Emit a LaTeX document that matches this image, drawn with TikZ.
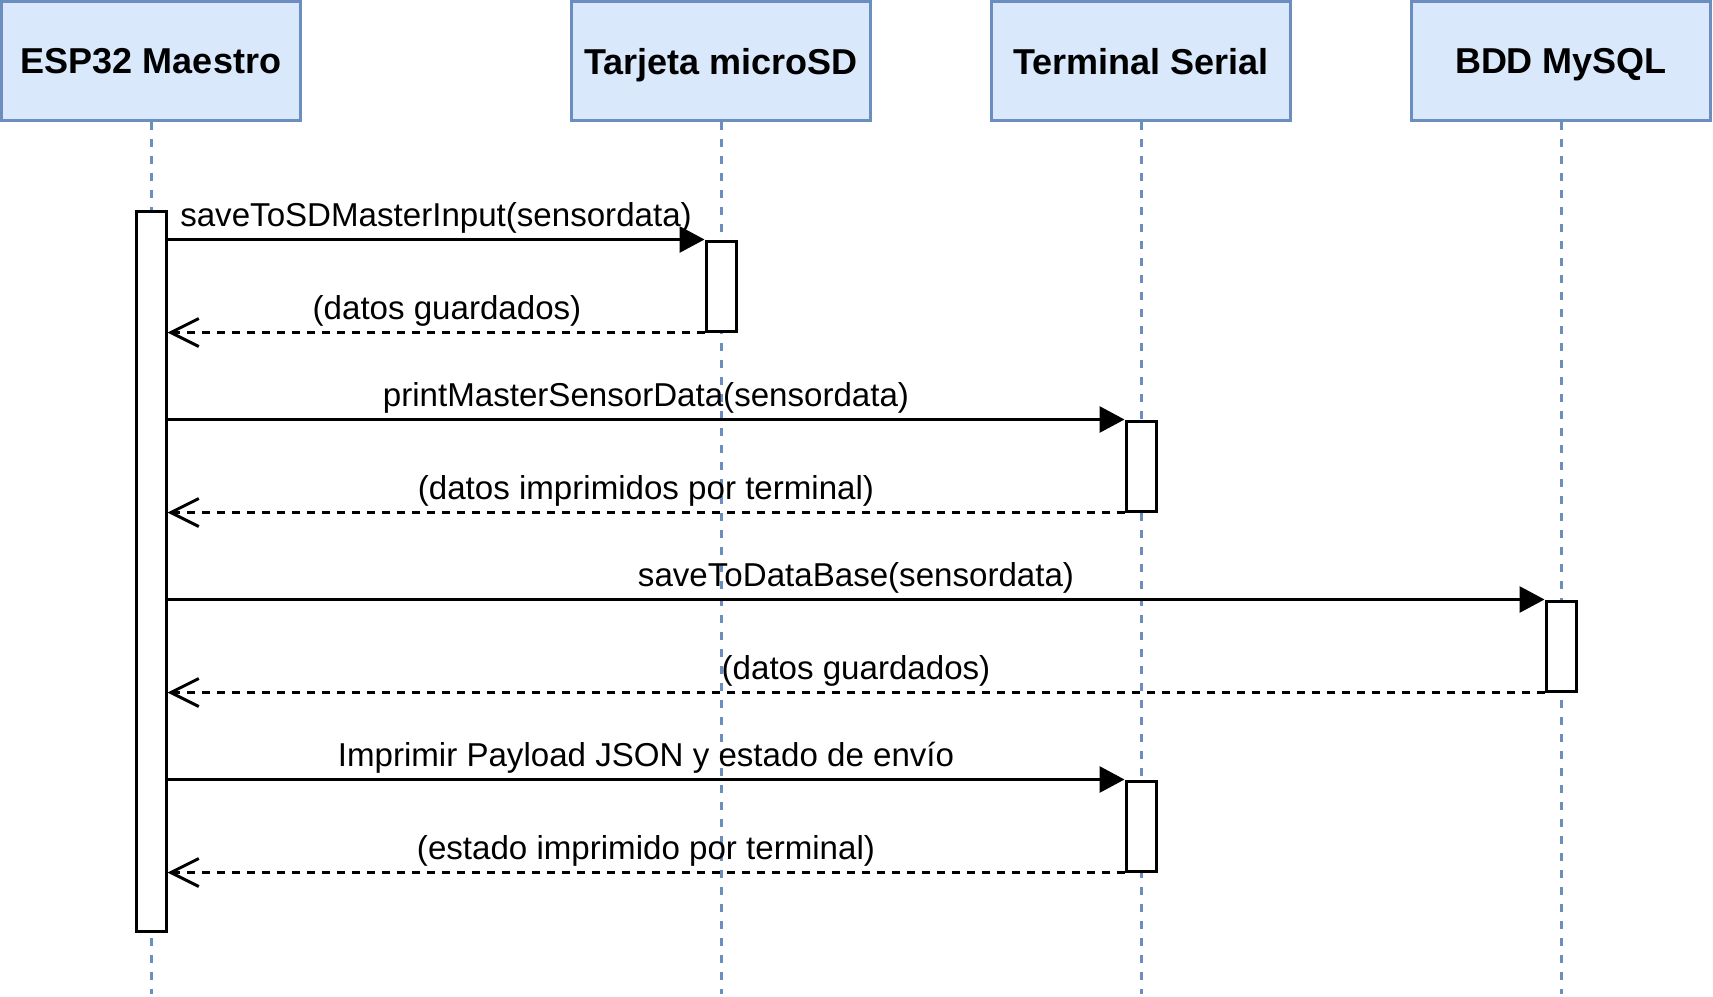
\documentclass[tikz,border=0pt]{standalone}
\usepackage{fontspec}
\setmainfont{Liberation Sans}
\usetikzlibrary{arrows.meta}
\definecolor{headfill}{HTML}{DAE8FC}
\definecolor{headdraw}{HTML}{6C8EBF}

\begin{document}
\begin{tikzpicture}[x=0.5pt,y=-0.5pt,
  header/.style={shape=rectangle,draw=headdraw,fill=headfill,line width=1.5pt,minimum width=149.5pt,minimum height=59.5pt,inner sep=0pt,text depth=0pt,font=\bfseries\fontsize{18}{21}\selectfont},
  lifeline/.style={draw=headdraw,line width=1.5pt,dash pattern=on 4pt off 4.5pt},
  act/.style={shape=rectangle,draw,fill=white,line width=1.5pt,minimum width=15pt,inner sep=0pt},
  call/.style={line width=1.5pt,-{Triangle[length=12.5pt,width=13pt]}},
  reply/.style={line width=1.5pt,dash pattern=on 4pt off 3.5pt,-{Straight Barb[length=14pt,width=14pt]}},
  msg/.style={anchor=base,yshift=6.3pt,inner sep=0pt,font=\fontsize{16.55}{19}\selectfont}]
\useasboundingbox (0,0) rectangle (1713,996);
\path (151,61) node (esp) [header] {ESP32 Maestro};
\path (721,61) node (sd) [header] {Tarjeta microSD};
\path (1141,61) node (term) [header] {Terminal Serial};
\path (1561,61) node (bdd) [header] {BDD MySQL};
\coordinate (bottom) at (0,994);

\draw [lifeline] (esp.south) to (esp.south |- bottom);
\draw [lifeline] (sd.south) to (sd.south |- bottom);
\draw [lifeline] (term.south) to (term.south |- bottom);
\draw [lifeline] (bdd.south) to (bdd.south |- bottom);

\path (151,571) node (espact) [act,minimum height=360pt] {};
\path (721,286) node (sdact) [act,minimum height=45pt] {};
\path (1141,466) node (termact) [act,minimum height=45pt] {};
\path (1561,646) node (bddact) [act,minimum height=45pt] {};
\path (1141,826) node (termactb) [act,minimum height=45pt] {};

\draw [call] (espact.east |- sdact.north) to node [msg] {saveToSDMasterInput(sensordata)} (sdact.north west);
\draw [reply] (sdact.south west) to node [msg,xshift=5.5pt] {(datos guardados)} (espact.east |- sdact.south);
\draw [call] (espact.east |- termact.north) to node [msg] {printMasterSensorData(sensordata)} (termact.north west);
\draw [reply] (termact.south west) to node [msg] {(datos imprimidos por terminal)} (espact.east |- termact.south);
\draw [call] (espact.east |- bddact.north) to node [msg] {saveToDataBase(sensordata)} (bddact.north west);
\draw [reply] (bddact.south west) to node [msg] {(datos guardados)} (espact.east |- bddact.south);
\draw [call] (espact.east |- termactb.north) to node [msg] {Imprimir Payload JSON y estado de envío} (termactb.north west);
\draw [reply] (termactb.south west) to node [msg] {(estado imprimido por terminal)} (espact.east |- termactb.south);
\end{tikzpicture}
\end{document}
